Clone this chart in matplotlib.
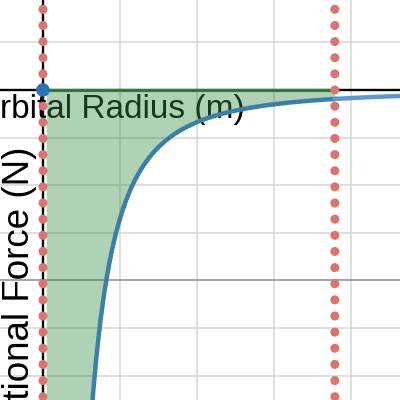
import numpy as np
import matplotlib
matplotlib.use("Agg")
import matplotlib.pyplot as plt

# Inverse-square force curve F(r) = -K / r^2 (graph units)
force_constant = 2.7
r_start = 0.0          # left bound of the shaded integral
r_end = 3.79           # right bound of the shaded integral

# view window (graph units)
x_min, x_max = -0.558, 4.636
y_min, y_max = -6.51, 1.89

minor_x = [1, 2, 3, 4]
minor_y = [1, -1, -2, -3, -5, -6]
major_y = [-4]

x_label = "Orbital Radius (m)"
y_label = "Gravitational Force (N)"

plt.rcParams["font.family"] = ["Liberation Sans", "DejaVu Sans"]

fig = plt.figure(figsize=(4, 4), dpi=100)
ax = fig.add_axes([0, 0, 1, 1])
ax.set_xlim(x_min, x_max)
ax.set_ylim(y_min, y_max)
for s in ax.spines.values():
    s.set_visible(False)
ax.set_xticks([])
ax.set_yticks([])

# grid
for gx in minor_x:
    ax.axvline(gx, color="#d6d6d6", lw=1.1, zorder=0)
for gy in minor_y:
    ax.axhline(gy, color="#d6d6d6", lw=1.1, zorder=0)
for gy in major_y:
    ax.axhline(gy, color="#969696", lw=1.2, zorder=0)

# axes
ax.axhline(0, color="black", lw=1.7, zorder=1)
ax.axvline(0, color="black", lw=1.7, zorder=1)

# axis titles
ax.text(2.623, -0.588, x_label, fontsize=24, color="black",
        ha="right", va="baseline", zorder=2)
ax.text(-0.182, -1.197, y_label, fontsize=26.5, color="black",
        rotation=90, rotation_mode="anchor", ha="right", va="baseline",
        zorder=2)

# curve
r_in = np.linspace(0.05, r_end, 800)
r_out = np.linspace(r_end, x_max + 0.1, 200)
f_in = -force_constant / r_in**2
f_out = -force_constant / r_out**2

# shaded area between the axis and the curve
ax.fill_between(r_in, np.maximum(f_in, y_min - 5), 0, color="#388c46",
                alpha=0.4, lw=0, zorder=3)
ax.plot([r_start, r_end], [0, 0], color="#2f7a3b", lw=2.2,
        solid_capstyle="butt", zorder=3.5)

ax.plot(r_in, f_in, color="#3c7fa6", lw=3.2, zorder=3.6)
ax.plot(r_out, f_out, color="#5e98d0", lw=3.2, zorder=3.6)

# dotted bounds
dot_step = 0.339
dot_y = np.arange(-25, 10) * dot_step
for bx in (r_start, r_end):
    ax.scatter(np.full_like(dot_y, bx), dot_y, s=42, color="#d87472",
               edgecolors="none", zorder=4)

# start point
ax.scatter([r_start], [0], s=95, color="#2d70b3", edgecolors="none",
           zorder=5)

fig.savefig("out.png", dpi=100)
